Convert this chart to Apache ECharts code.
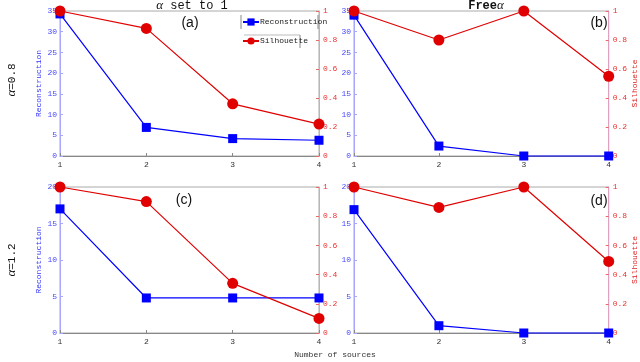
<!DOCTYPE html>
<html><head><meta charset="utf-8">
<script src="https://cdn.jsdelivr.net/npm/echarts@6/dist/echarts.min.js"></script>
<style>html,body{margin:0;padding:0;background:#fff}#c{width:640px;height:362px}</style>
</head><body><div id="c"></div>
<script>
const categories = ['1','2','3','4'];
const reconA = [34.3, 6.9, 4.2, 3.8];
const silA   = [1.0, 0.88, 0.36, 0.22];
const reconB = [34.0, 2.4, 0, 0];
const silB   = [1.0, 0.80, 1.0, 0.55];
const reconC = [17.0, 4.8, 4.8, 4.8];
const silC   = [1.0, 0.90, 0.34, 0.10];
const reconD = [16.9, 1.0, 0, 0];
const silD   = [1.0, 0.86, 1.0, 0.49];
const reconMax = [35, 35, 20, 20];
const panelLabels = ['(a)','(b)','(c)','(d)'];

const MONO = 'Liberation Mono';
const BLUE = '#0000ff', RED = '#e00000';
const chart = echarts.init(document.getElementById('c'));

const grids = [
  {left:60, width:259, top:11, height:145},
  {left:354, width:259, top:11, height:145},
  {left:60, width:259, top:187, height:146},
  {left:354, width:259, top:187, height:146}
];
const recon = [reconA, reconB, reconC, reconD];
const sil = [silA, silB, silC, silD];

const xAxis = [], yAxis = [], series = [];
grids.forEach((g,i)=>{
  xAxis.push({type:'category', gridIndex:i, data:categories, boundaryGap:false,
    axisLine:{lineStyle:{color:'#888'}}, axisTick:{inside:true,length:3,lineStyle:{color:'#888'}},
    axisLabel:{fontFamily:MONO,fontSize:8,color:'#333',margin:5}, splitLine:{show:false}});
  yAxis.push({type:'value', gridIndex:i, min:0, max:reconMax[i], interval:5, position:'left',
    name: (i===0||i===2)?'Reconstruction':'', nameLocation:'middle', nameGap:17,
    nameTextStyle:{fontFamily:MONO,fontSize:8,color:'#3030ff'},
    axisLine:{show:true,lineStyle:{color:'#a8a8ff'}}, axisTick:{show:true,inside:true,length:3,lineStyle:{color:'#a8a8ff'}},
    axisLabel:{fontFamily:MONO,fontSize:8,color:'#4848ff',margin:3}, splitLine:{show:false}});
  yAxis.push({type:'value', gridIndex:i, min:0, max:1, interval:0.2, position:'right',
    name: (i===1||i===3)?'Silhouette':'', nameLocation:'middle', nameGap:21, nameRotate:90,
    nameTextStyle:{fontFamily:MONO,fontSize:8,color:'#e02020'},
    axisLine:{show:true,lineStyle:{color:'#e0a0c0'}}, axisTick:{show:true,inside:true,length:3,lineStyle:{color:'#ee6666'}},
    axisLabel:{fontFamily:MONO,fontSize:8,color:'#ee3030',margin:4,formatter:v=>String(+v.toFixed(1))}, splitLine:{show:false}});
  series.push({name:'Reconstruction', type:'line', xAxisIndex:i, yAxisIndex:2*i, data:recon[i],
    symbol:'rect', symbolSize:9, lineStyle:{color:BLUE,width:1.2}, itemStyle:{color:BLUE}, clip:false, z:3});
  series.push({name:'Silhouette', type:'line', xAxisIndex:i, yAxisIndex:2*i+1, data:sil[i],
    symbol:'circle', symbolSize:11, lineStyle:{color:RED,width:1.2}, itemStyle:{color:RED}, clip:false, z:4});
});

const graphic = [
  {type:'text', x:192, y:6, style:{text:'{a|α} set to 1', rich:{a:{fontFamily:'Liberation Serif',fontStyle:'italic',fontSize:13}}, fontFamily:MONO, fontSize:12, fill:'#111', align:'center', verticalAlign:'middle'}},
  {type:'text', x:486, y:6, style:{text:'Free{a|α}', rich:{a:{fontFamily:'Liberation Serif',fontStyle:'italic',fontSize:13}}, fontFamily:MONO, fontSize:12, fontWeight:'bold', fill:'#111', align:'center', verticalAlign:'middle'}},
  {type:'text', x:190, y:23, style:{text:panelLabels[0], fontFamily:'Liberation Sans', fontSize:14, fill:'#111', align:'center', verticalAlign:'middle'}},
  {type:'text', x:599, y:23, style:{text:panelLabels[1], fontFamily:'Liberation Sans', fontSize:14, fill:'#111', align:'center', verticalAlign:'middle'}},
  {type:'text', x:184, y:200, style:{text:panelLabels[2], fontFamily:'Liberation Sans', fontSize:14, fill:'#111', align:'center', verticalAlign:'middle'}},
  {type:'text', x:599, y:201, style:{text:panelLabels[3], fontFamily:'Liberation Sans', fontSize:14, fill:'#111', align:'center', verticalAlign:'middle'}},
  {type:'text', x:12, y:80, rotation:Math.PI/2, style:{text:'{a|α}=0.8', rich:{a:{fontFamily:'Liberation Serif',fontStyle:'italic',fontSize:13}}, fontFamily:MONO, fontSize:11, fill:'#111', align:'center', verticalAlign:'middle'}},
  {type:'text', x:12, y:260, rotation:Math.PI/2, style:{text:'{a|α}=1.2', rich:{a:{fontFamily:'Liberation Serif',fontStyle:'italic',fontSize:13}}, fontFamily:MONO, fontSize:11, fill:'#111', align:'center', verticalAlign:'middle'}},
  {type:'text', x:335, y:355, style:{text:'Number of sources', fontFamily:MONO, fontSize:8, fill:'#333', align:'center', verticalAlign:'middle'}},
  {type:'line', shape:{x1:241,y1:15,x2:241,y2:29}, style:{stroke:'#888',lineWidth:1}},
  {type:'line', shape:{x1:318,y1:15,x2:318,y2:29}, style:{stroke:'#888',lineWidth:1}},
  {type:'line', shape:{x1:244,y1:35,x2:300,y2:35}, style:{stroke:'#bbb',lineWidth:1}},
  {type:'line', shape:{x1:300,y1:35,x2:300,y2:48}, style:{stroke:'#888',lineWidth:1}}
];

chart.setOption({
  animation:false,
  grid: grids.map(g=>Object.assign({show:true,borderColor:'#aaa',borderWidth:1,backgroundColor:'transparent'},g)),
  xAxis, yAxis, series, graphic,
  legend:{left:242, top:18, orient:'vertical', itemGap:11, itemWidth:16, itemHeight:9,
    data:['Reconstruction','Silhouette'],
    textStyle:{fontFamily:MONO,fontSize:8,color:'#222',padding:[0,0,0,-4]}, padding:0}
});
</script></body></html>
